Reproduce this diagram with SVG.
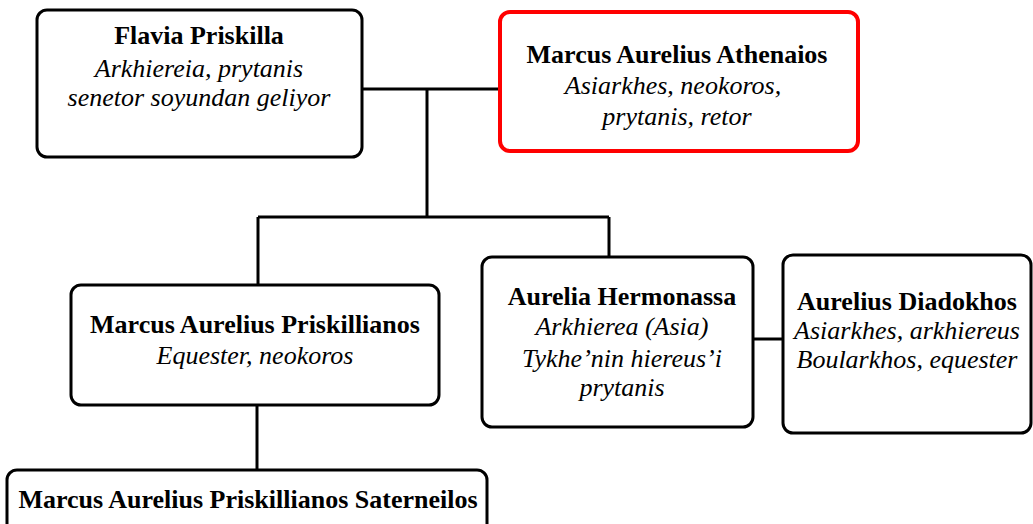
<svg xmlns="http://www.w3.org/2000/svg" width="1033" height="524" viewBox="0 0 1033 524">
<style>
.box{fill:#fff;stroke:#000;stroke-width:3}
.red{fill:#fff;stroke:#ff0000;stroke-width:4}
.t{font-family:"Liberation Serif","Times New Roman",serif;font-size:26px;fill:#000;text-anchor:middle}
.b{font-weight:bold}
.i{font-style:italic}
.c{fill:none;stroke:#000;stroke-width:3}
</style>
<rect width="1033" height="524" fill="#fff"/>
<g id="connectors">
<path class="c" d="M362 89H499"/>
<path class="c" d="M427 89V217"/>
<path class="c" d="M258 217H609"/>
<path class="c" d="M258 217V285"/>
<path class="c" d="M609 217V257"/>
<path class="c" d="M257 405V470"/>
<path class="c" d="M753 339H783"/>
</g>
<g id="flavia">
<rect class="box" x="37" y="10" width="325" height="147" rx="10"/>
<text class="t b" x="199" y="44">Flavia Priskilla</text>
<text class="t i" x="199" y="77">Arkhiereia, prytanis</text>
<text class="t i" x="199" y="106">senetor soyundan geliyor</text>
</g>
<g id="athenaios">
<rect class="red" x="500" y="12" width="358" height="139" rx="10"/>
<text class="t b" x="677" y="63">Marcus Aurelius Athenaios</text>
<text class="t i" x="673" y="94">Asiarkhes, neokoros,</text>
<text class="t i" x="677" y="125">prytanis, retor</text>
</g>
<g id="priskillianos">
<rect class="box" x="71" y="285" width="368" height="120" rx="10"/>
<text class="t b" x="255" y="333">Marcus Aurelius Priskillianos</text>
<text class="t i" x="255" y="364">Equester, neokoros</text>
</g>
<g id="hermonassa">
<rect class="box" x="482" y="257" width="271" height="170" rx="10"/>
<text class="t b" x="622" y="305">Aurelia Hermonassa</text>
<text class="t i" x="622" y="335">Arkhierea (Asia)</text>
<text class="t i" x="622" y="367">Tykhe’nin hiereus’i</text>
<text class="t i" x="622" y="396">prytanis</text>
</g>
<g id="diadokhos">
<rect class="box" x="783" y="255" width="248" height="178" rx="10"/>
<text class="t b" x="907" y="310">Aurelius Diadokhos</text>
<text class="t i" x="907" y="339">Asiarkhes, arkhiereus</text>
<text class="t i" x="907" y="368">Boularkhos, equester</text>
</g>
<g id="saterneilos">
<rect class="box" x="7" y="470" width="480" height="70" rx="10"/>
<text class="t b" x="248" y="508">Marcus Aurelius Priskillianos Saterneilos</text>
</g>
</svg>
